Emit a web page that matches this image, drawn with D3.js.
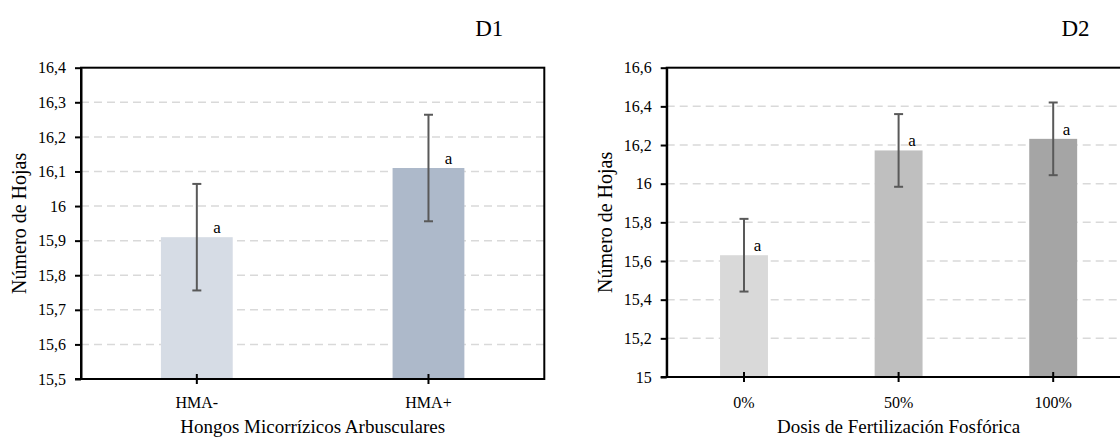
<!DOCTYPE html>
<html>
<head>
<meta charset="utf-8">
<script src="https://cdn.jsdelivr.net/npm/d3@7"></script>
<style>
  html, body { margin: 0; padding: 0; background: #ffffff; }
  svg { display: block; }
  text { font-family: "Liberation Serif", "Times New Roman", serif; fill: #000; }
</style>
</head>
<body>
<svg id="chart" width="1120" height="437"></svg>
<script>
// ---- Data ----
const d1Title = "D1";
const d1Categories = ["HMA-", "HMA+"];
const d1Means = [15.91, 16.11];
const d1Errors = [0.154, 0.154];
const d1Letters = ["a", "a"];
const d1Ticks = [15.5, 15.6, 15.7, 15.8, 15.9, 16.0, 16.1, 16.2, 16.3, 16.4];
const d1Colors = ["#d6dce5", "#adb9ca"];
const d1XTitle = "Hongos Micorrízicos Arbusculares";

const d2Title = "D2";
const d2Categories = ["0%", "50%", "100%"];
const d2Means = [15.63, 16.172, 16.232];
const d2Errors = [0.188, 0.188, 0.188];
const d2Letters = ["a", "a", "a"];
const d2Ticks = [15.0, 15.2, 15.4, 15.6, 15.8, 16.0, 16.2, 16.4, 16.6];
const d2Colors = ["#d9d9d9", "#bfbfbf", "#a5a5a5"];
const d2XTitle = "Dosis de Fertilización Fosfórica";

const yTitle = "Número de Hojas";

// ---- Drawing ----
const svg = d3.select("#chart");
const fmt = v => String(+v.toFixed(1)).replace(".", ",");

function drawPanel(cfg) {
  const { x0, x1, yTop, yBot, categories, means, errors, letters, ticks, colors, title, xTitle } = cfg;
  const g = svg.append("g");

  const x = d3.scaleBand().domain(categories).range([x0, x1])
    .paddingInner(0.69).paddingOuter(0.345);
  const y = d3.scaleLinear().domain([ticks[0], ticks[ticks.length - 1]]).range([yBot, yTop]);

  // gridlines
  g.append("g").selectAll("line")
    .data(ticks.slice(1, -1))
    .join("line")
    .attr("x1", x0).attr("x2", x1)
    .attr("y1", d => y(d)).attr("y2", d => y(d))
    .attr("stroke", "#d9d9d9").attr("stroke-width", 1.5)
    .attr("stroke-dasharray", "8,5");

  // bars
  g.append("g").selectAll("rect")
    .data(categories)
    .join("rect")
    .attr("x", d => x(d)).attr("width", x.bandwidth())
    .attr("y", (d, i) => y(means[i]))
    .attr("height", (d, i) => yBot - y(means[i]))
    .attr("fill", (d, i) => colors[i]);

  // error bars
  const eb = g.append("g").attr("stroke", "#595959").attr("stroke-width", 2);
  categories.forEach((c, i) => {
    const cx = x(c) + x.bandwidth() / 2;
    const yHi = y(means[i] + errors[i]);
    const yLo = y(means[i] - errors[i]);
    eb.append("line").attr("x1", cx).attr("x2", cx).attr("y1", yHi).attr("y2", yLo);
    eb.append("line").attr("x1", cx - 4.5).attr("x2", cx + 4.5).attr("y1", yHi).attr("y2", yHi);
    eb.append("line").attr("x1", cx - 4.5).attr("x2", cx + 4.5).attr("y1", yLo).attr("y2", yLo);
  });

  // letters
  g.append("g").selectAll("text")
    .data(categories)
    .join("text")
    .attr("x", d => x(d) + x.bandwidth() / 2 + x.bandwidth() * 0.28)
    .attr("y", (d, i) => y(means[i]) - 4)
    .attr("text-anchor", "middle")
    .attr("font-size", 17)
    .text((d, i) => letters[i]);

  // y axis
  const yAxis = g.append("g").attr("transform", `translate(${x0},0)`)
    .call(d3.axisLeft(y).tickValues(ticks).tickFormat(fmt).tickSize(6).tickPadding(9).tickSizeOuter(0));
  yAxis.selectAll("text").attr("font-size", 16).attr("font-family", "Liberation Serif").attr("fill", "#000");
  yAxis.selectAll("line").attr("stroke", "#000").attr("stroke-width", 2);
  yAxis.select(".domain").attr("stroke", "#000").attr("stroke-width", 2);

  // x axis
  const xAxis = g.append("g").attr("transform", `translate(0,${yBot})`)
    .call(d3.axisBottom(x).tickSize(5).tickSizeOuter(0));
  xAxis.select(".domain").remove();
  xAxis.selectAll("line").attr("y1", -5).attr("y2", 5).attr("stroke", "#000").attr("stroke-width", 2);
  xAxis.selectAll("text").attr("y", 408 - yBot).attr("dy", 0)
    .attr("font-size", 16).attr("font-family", "Liberation Serif").attr("fill", "#000");

  // box
  g.append("rect")
    .attr("x", x0).attr("y", yTop).attr("width", x1 - x0).attr("height", yBot - yTop)
    .attr("fill", "none").attr("stroke", "#000").attr("stroke-width", 2);
  g.append("line").attr("x1", x0 - 6).attr("x2", x1).attr("y1", yBot).attr("y2", yBot)
    .attr("stroke", "#000").attr("stroke-width", 2);

  // titles
  g.append("text").attr("x", (x0 + x1) / 2).attr("y", 433)
    .attr("text-anchor", "middle").attr("font-size", 19).text(xTitle);
  g.append("text")
    .attr("transform", `translate(${x0 - 55},${(yTop + yBot) / 2}) rotate(-90)`)
    .attr("text-anchor", "middle").attr("font-size", 20).text(yTitle);
  g.append("text").attr("x", x1 - 55).attr("y", 36)
    .attr("text-anchor", "middle").attr("font-size", 23).text(title);
}

drawPanel({
  x0: 81, x1: 544.3, yTop: 67.7, yBot: 379,
  categories: d1Categories, means: d1Means, errors: d1Errors, letters: d1Letters,
  ticks: d1Ticks, colors: d1Colors, title: d1Title, xTitle: d1XTitle
});
drawPanel({
  x0: 666.7, x1: 1130.5, yTop: 67.7, yBot: 377,
  categories: d2Categories, means: d2Means, errors: d2Errors, letters: d2Letters,
  ticks: d2Ticks, colors: d2Colors, title: d2Title, xTitle: d2XTitle
});
</script>
</body>
</html>
